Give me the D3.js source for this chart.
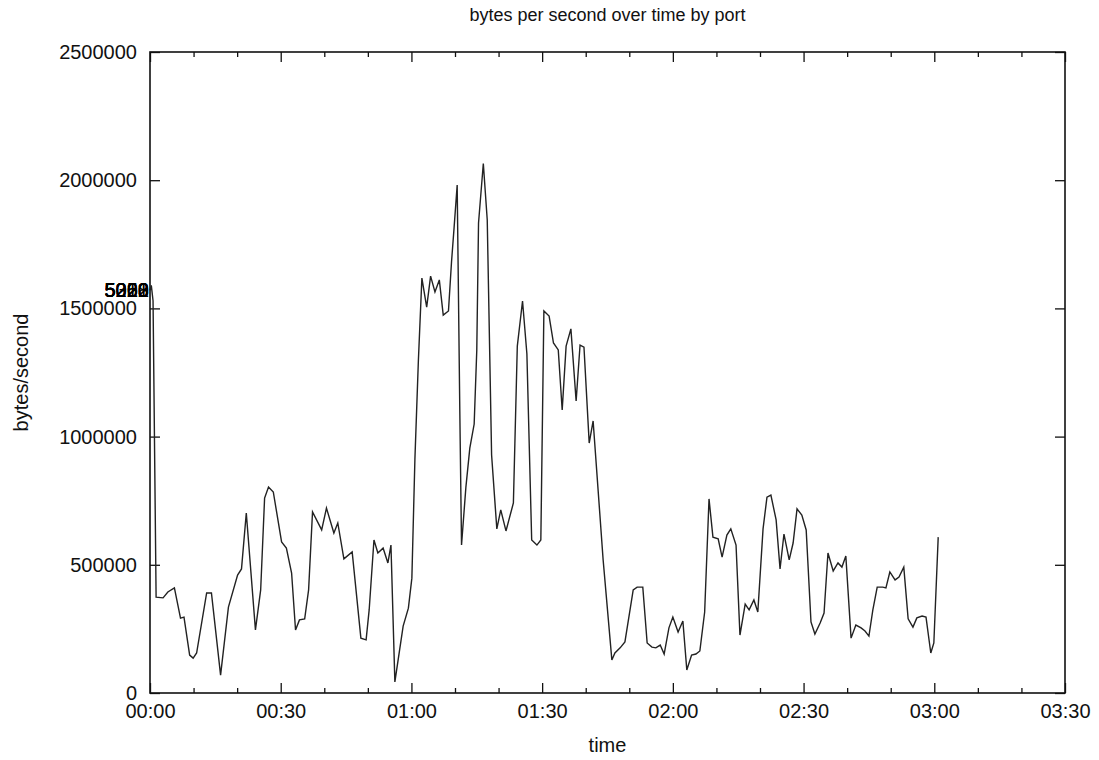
<!DOCTYPE html>
<html>
<head>
<meta charset="utf-8">
<script src="https://cdn.jsdelivr.net/npm/d3@7/dist/d3.min.js"></script>
<style>
  html, body { margin: 0; padding: 0; background: #fff; }
  svg { display: block; font-family: "Liberation Sans", Arial, Helvetica, sans-serif; }
</style>
</head>
<body>
<svg id="chart" width="1099" height="760"></svg>
<script>
// Elapsed time of each sample, in minutes since 00:00
const minutes = [
  0.0, 0.3, 0.7, 1.4, 3.0, 4.1, 5.6, 7.0, 7.8, 9.1,
  9.9, 10.7, 13.0, 14.1, 16.2, 18.0, 20.1, 21.0, 22.1, 24.2,
  25.4, 26.3, 27.2, 28.3, 30.2, 31.3, 32.5, 33.4, 34.3, 35.5,
  36.4, 37.3, 39.4, 40.5, 42.2, 43.1, 44.5, 46.4, 48.4, 49.6,
  50.3, 51.4, 52.3, 53.5, 54.6, 55.3, 56.2, 58.1, 59.3, 60.1,
  60.8, 61.6, 62.4, 63.5, 64.4, 65.4, 66.4, 67.3, 68.5, 69.2,
  69.8, 70.5, 71.1, 71.5, 72.5, 73.4, 74.4, 75.0, 75.4, 76.5,
  77.4, 78.4, 79.6, 80.5, 81.7, 83.4, 84.3, 85.5, 86.5, 87.6,
  88.8, 89.7, 90.4, 91.6, 92.6, 93.7, 94.6, 95.5, 96.6, 97.8,
  98.7, 99.6, 100.8, 101.7, 104.0, 106.0, 106.7, 107.9, 109.0, 110.9,
  111.8, 113.1, 114.1, 115.2, 116.1, 117.1, 118.0, 119.1, 120.0, 121.2,
  122.3, 123.2, 124.3, 125.3, 126.2, 127.3, 128.3, 129.2, 130.4, 131.3,
  132.4, 133.3, 134.5, 135.4, 136.6, 137.5, 138.6, 139.5, 140.7, 141.6,
  142.5, 143.7, 144.6, 145.5, 146.7, 147.6, 148.5, 149.6, 150.6, 151.7,
  152.6, 153.8, 154.7, 155.6, 156.8, 157.9, 158.8, 159.7, 160.9, 162.0,
  163.2, 164.1, 165.0, 165.9, 166.9, 168.2, 168.9, 169.8, 171.0, 171.9,
  173.0, 174.0, 175.1, 176.0, 177.2, 178.1, 179.2, 179.9, 180.9
];

// Throughput at each sample, bytes per second
const bytesPerSecond = [
  1570000, 1590000, 1530000, 374000, 371000, 394000, 410000, 292000, 296000, 148000,
  136000, 156000, 390000, 390000, 70000, 335000, 460000, 484000, 702000, 246000,
  402000, 760000, 803000, 784000, 589000, 565000, 468000, 246000, 285000, 289000,
  402000, 706000, 636000, 721000, 624000, 663000, 523000, 550000, 214000, 207000,
  324000, 597000, 546000, 565000, 507000, 577000, 43000, 261000, 331000, 448000,
  913000, 1299000, 1618000, 1505000, 1626000, 1564000, 1611000, 1474000, 1490000, 1681000,
  1817000, 1981000, 1104000, 577000, 803000, 955000, 1049000, 1338000, 1833000, 2065000,
  1845000, 928000, 640000, 714000, 632000, 741000, 1353000, 1529000, 1322000, 597000,
  577000, 597000, 1490000, 1470000, 1365000, 1338000, 1104000, 1353000, 1420000, 1139000,
  1357000, 1349000, 975000, 1061000, 519000, 129000, 156000, 176000, 199000, 402000,
  413000, 413000, 195000, 179000, 176000, 187000, 152000, 254000, 296000, 238000,
  281000, 90000, 148000, 152000, 164000, 316000, 757000, 608000, 601000, 530000,
  616000, 640000, 577000, 226000, 347000, 324000, 363000, 316000, 640000, 764000,
  772000, 675000, 484000, 620000, 519000, 585000, 718000, 694000, 636000, 277000,
  230000, 273000, 312000, 546000, 476000, 507000, 491000, 534000, 214000, 265000,
  254000, 242000, 222000, 324000, 413000, 413000, 410000, 472000, 441000, 452000,
  491000, 289000, 257000, 293000, 300000, 296000, 156000, 195000, 608000
];

// Port titles drawn at the start of the line
const portLabels = ["5353", "5060", "5222", "5228", "5001", "5010"];

// Axis ticks
const yTicks = [0, 500000, 1000000, 1500000, 2000000, 2500000];
const xMajorTicks = [0, 30, 60, 90, 120, 150, 180, 210];
const xMinorTicks = [10, 20, 40, 50, 70, 80, 100, 110, 130, 140, 160, 170, 190, 200];
const xTickLabels = ["00:00", "00:30", "01:00", "01:30", "02:00", "02:30", "03:00", "03:30"];

const svg = d3.select("#chart");
const margin = { left: 150, right: 34, top: 52, bottom: 67 };
const W = 1099, H = 760;
const plotW = W - margin.left - margin.right;
const plotH = H - margin.top - margin.bottom;

const x = d3.scaleLinear().domain([0, 210]).range([margin.left, margin.left + plotW]);
const y = d3.scaleLinear().domain([0, 2500000]).range([margin.top + plotH, margin.top]);

const tickFont = 20;
const fmtX = d => xTickLabels[xMajorTicks.indexOf(d)];

// Bottom axis: labelled major ticks and shorter minor ticks, pointing inward
const axisBottomG = svg.append("g").attr("transform", `translate(0,${margin.top + plotH})`);
axisBottomG.call(d3.axisBottom(x).tickValues(xMajorTicks).tickSizeInner(-10).tickSizeOuter(0)
  .tickPadding(11).tickFormat(fmtX));
const axisBottomMinorG = svg.append("g").attr("transform", `translate(0,${margin.top + plotH})`);
axisBottomMinorG.call(d3.axisBottom(x).tickValues(xMinorTicks).tickSizeInner(-5).tickSizeOuter(0).tickFormat(""));

// Top axis mirrors the bottom ticks without labels
const axisTopG = svg.append("g").attr("transform", `translate(0,${margin.top})`);
axisTopG.call(d3.axisTop(x).tickValues(xMajorTicks).tickSizeInner(-10).tickSizeOuter(0).tickFormat(""));
const axisTopMinorG = svg.append("g").attr("transform", `translate(0,${margin.top})`);
axisTopMinorG.call(d3.axisTop(x).tickValues(xMinorTicks).tickSizeInner(-5).tickSizeOuter(0).tickFormat(""));

// Left axis with labels, right axis mirrored
const axisLeftG = svg.append("g").attr("transform", `translate(${margin.left},0)`);
axisLeftG.call(d3.axisLeft(y).tickValues(yTicks).tickSizeInner(-10).tickSizeOuter(0)
  .tickPadding(13).tickFormat(d3.format("d")));
const axisRightG = svg.append("g").attr("transform", `translate(${margin.left + plotW},0)`);
axisRightG.call(d3.axisRight(y).tickValues(yTicks).tickSizeInner(-10).tickSizeOuter(0).tickFormat(""));

svg.selectAll(".domain").remove();
svg.selectAll(".tick line").attr("stroke", "#111").attr("stroke-width", 1.3);
svg.selectAll(".tick text").attr("fill", "#111").style("font-size", tickFont + "px")
  .style("font-family", "'Liberation Sans', Arial, sans-serif");
// left labels: the outward padding is measured from the inner tick end, so shift them back
axisLeftG.selectAll(".tick text").attr("x", -13);

// Plot border
svg.append("rect")
  .attr("x", margin.left).attr("y", margin.top)
  .attr("width", plotW).attr("height", plotH)
  .attr("fill", "none").attr("stroke", "#111").attr("stroke-width", 1.6);

// Throughput line
const pts = minutes.map((m, i) => [m, bytesPerSecond[i]]);
const line = d3.line().x(d => x(d[0])).y(d => y(d[1]));
svg.append("path")
  .datum(pts)
  .attr("d", line)
  .attr("fill", "none")
  .attr("stroke", "#222")
  .attr("stroke-width", 1.4)
  .attr("stroke-linejoin", "miter");

// Port titles stacked at the first sample
svg.append("g").selectAll("text")
  .data(portLabels)
  .join("text")
  .attr("x", x(minutes[0]) - 1)
  .attr("y", y(bytesPerSecond[0]) + 7)
  .attr("text-anchor", "end")
  .attr("fill", "#000")
  .style("font-size", "20px")
  .text(d => d);

// Title and axis titles
svg.append("text")
  .attr("x", margin.left + plotW / 2).attr("y", 21)
  .attr("text-anchor", "middle").attr("fill", "#111")
  .style("font-size", "18px")
  .text("bytes per second over time by port");

svg.append("text")
  .attr("x", margin.left + plotW / 2).attr("y", 752)
  .attr("text-anchor", "middle").attr("fill", "#111")
  .style("font-size", "20px")
  .text("time");

svg.append("text")
  .attr("transform", `translate(28,${margin.top + plotH / 2}) rotate(-90)`)
  .attr("text-anchor", "middle").attr("fill", "#111")
  .style("font-size", "20px")
  .text("bytes/second");
</script>
</body>
</html>
